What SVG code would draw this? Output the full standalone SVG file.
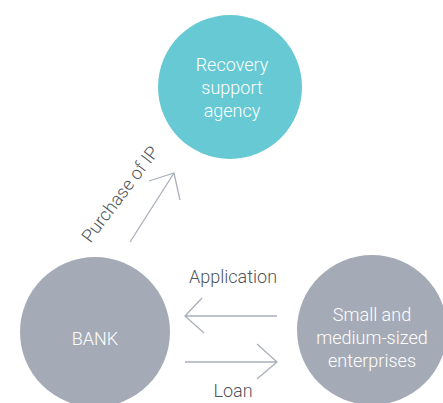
<svg xmlns="http://www.w3.org/2000/svg" width="443" height="403" viewBox="0 0 443 403">
<style>
.t{font-family:"Roboto","Liberation Sans",sans-serif;font-weight:300;font-size:18px;text-anchor:middle}
.w{fill:#ffffff}
.d{fill:#4f545a}
.a{fill:none;stroke:#a9afbb;stroke-width:1.3}
</style>
<rect width="443" height="403" fill="#ffffff"/>
<g id="agency">
<circle cx="230" cy="87" r="72" fill="#67c9d3"/>
<text class="t w" x="232" y="71">Recovery</text>
<text class="t w" x="232" y="94">support</text>
<text class="t w" x="232" y="117">agency</text>
</g>
<g id="bank">
<circle cx="95" cy="332" r="75" fill="#a5abb6"/>
<text class="t w" x="95" y="345">BANK</text>
</g>
<g id="sme">
<circle cx="372" cy="330" r="75" fill="#a5abb6"/>
<text class="t w" x="372" y="321">Small and</text>
<text class="t w" x="372" y="344">medium-sized</text>
<text class="t w" x="372" y="367">enterprises</text>
</g>
<g id="connectors">
<path class="a" d="M130,242 L174,173 M149,181 L174,173 L180,200"/>
<path class="a" d="M277,316 L185,316 M202,298 L185,316 L204,333"/>
<path class="a" d="M185,362 L277,362 M257,344 L277,362 L257,379"/>
<text class="t d" transform="translate(125,198) rotate(-53)" x="0" y="0">Purchase of IP</text>
<text class="t d" x="233" y="283">Application</text>
<text class="t d" x="233" y="397">Loan</text>
</g>
</svg>
